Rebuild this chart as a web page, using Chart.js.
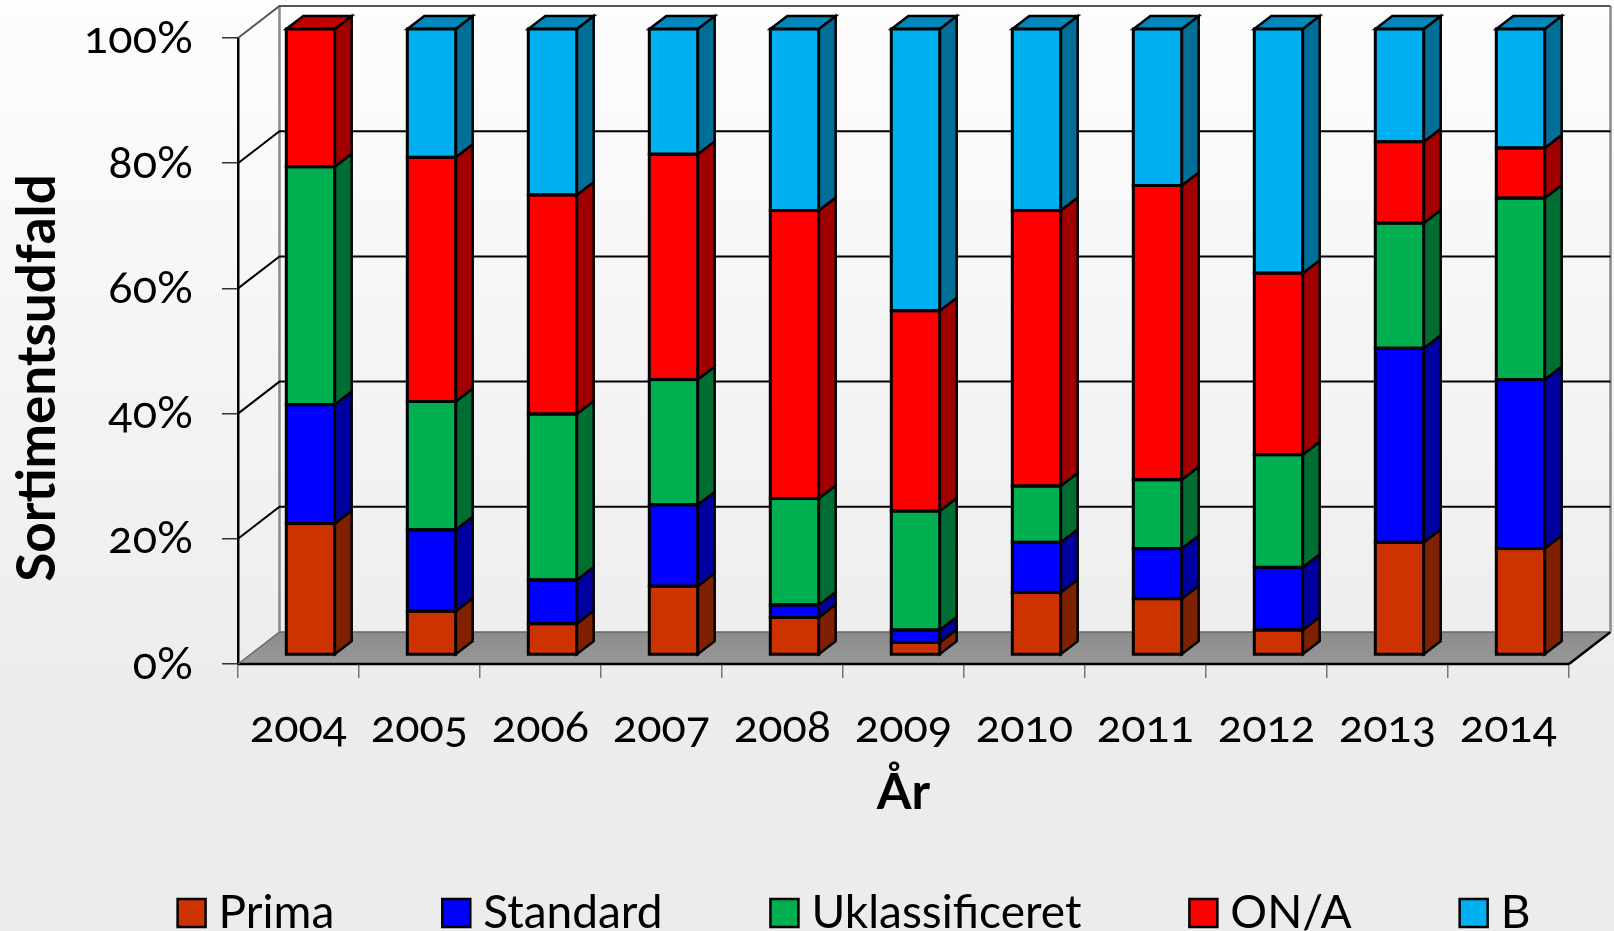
<!DOCTYPE html>
<html><head><meta charset="utf-8">
<script src="https://cdn.jsdelivr.net/npm/chart.js@4"></script>
<style>
html,body{margin:0;padding:0;width:1614px;height:931px;overflow:hidden;background:linear-gradient(180deg,#fdfdfd 0%,#f3f3f3 45%,#ececec 75%,#ececec 100%);}
canvas{display:block;font-feature-settings:"onum" 1;font-variant-numeric:oldstyle-nums;}
</style></head><body><canvas id="c" width="1614" height="931"></canvas>
<script>
const years=['2004','2005','2006','2007','2008','2009','2010','2011','2012','2013','2014'];
const prima=[21,7,5,11,6,2,10,9,4,18,17];
const standard=[19,13,7,13,2,2,8,8,10,31,27];
const uklassificeret=[38,20.5,26.5,20,17,19,9,11,18,20,29];
const onA=[22,39,35,36,46,32,44,47,29,13,8];
const b=[0,20.5,26.5,20,29,45,29,25,39,18,19];
const yTicks=[0,20,40,60,80,100];
const FONT="Lato";
const D=[41.5,-32],BD=[17,-13],OFF=[12,-9],LEG_DX=47;
const frontCols=['#CC3300','#0000FF','#00B050','#FF0000','#00B0F0'];
const sideCols=['#7F2000','#0000A0','#006E32','#A00000','#006E96'];
const topCols=['#992600','#0000C0','#008A40','#C00000','#0088BC'];
const threeD={id:'threeD',
 afterLayout(ch){
  const l=ch.legend;l.left+=LEG_DX;l.right+=LEG_DX;
  l.legendHitBoxes.forEach(h=>{h.left+=LEG_DX;});
 },
 beforeDatasetsDraw(ch){
  const x=ch.ctx,a=ch.chartArea,ys=ch.scales.y;
  x.save();
  const fl=x.createLinearGradient(0,a.bottom+D[1],0,a.bottom);
  fl.addColorStop(0,'#8c8c8c');fl.addColorStop(1,'#989898');
  x.fillStyle=fl;x.beginPath();x.moveTo(a.left,a.bottom);x.lineTo(a.right,a.bottom);
  x.lineTo(a.right+D[0],a.bottom+D[1]);x.lineTo(a.left+D[0],a.bottom+D[1]);x.closePath();x.fill();
  x.strokeStyle='#666';x.lineWidth=1.5;
  x.beginPath();x.moveTo(a.left+D[0],a.bottom+D[1]);x.lineTo(a.right+D[0],a.bottom+D[1]);x.stroke();
  x.strokeStyle='#000';x.lineWidth=2.5;
  x.beginPath();x.moveTo(a.right,a.bottom);x.lineTo(a.right+D[0],a.bottom+D[1]);x.stroke();
  x.beginPath();x.moveTo(a.left,a.bottom);x.lineTo(a.right,a.bottom);x.stroke();
  x.strokeStyle='#8a8a8a';x.lineWidth=2.5;
  x.beginPath();x.moveTo(a.left+D[0],a.top+D[1]);x.lineTo(a.left+D[0],a.bottom+D[1]);x.stroke();
  x.beginPath();x.moveTo(a.right+D[0],a.top+D[1]);x.lineTo(a.right+D[0],a.bottom+D[1]);x.stroke();
  yTicks.forEach(v=>{
   const p=ys.getPixelForValue(v);
   x.strokeStyle=v===100?'#555':(v===0?'#666':'#000');x.lineWidth=v===0?1.5:2;
   x.beginPath();x.moveTo(a.left,p);x.lineTo(a.left+D[0],p+D[1]);
   if(v!==0)x.lineTo(a.right+D[0],p+D[1]);
   x.stroke();
  });
  x.restore();
  x.save();x.translate(OFF[0],OFF[1]);
  x.lineJoin='miter';
  ch.data.datasets.forEach((ds,i)=>{
   ch.getDatasetMeta(i).data.forEach((el,j)=>{
    if(!ds.data[j])return;
    const r=el.x+el.width/2;
    x.fillStyle=sideCols[i];x.strokeStyle='#000';x.lineWidth=2.5;
    x.beginPath();x.moveTo(r,el.y);x.lineTo(r+BD[0],el.y+BD[1]);x.lineTo(r+BD[0],el.base+BD[1]);x.lineTo(r,el.base);x.closePath();x.fill();x.stroke();
    let top=true;for(let k=i+1;k<ch.data.datasets.length;k++)if(ch.data.datasets[k].data[j])top=false;
    if(top){const l=el.x-el.width/2;
     x.fillStyle=topCols[i];
     x.beginPath();x.moveTo(l,el.y);x.lineTo(l+BD[0],el.y+BD[1]);x.lineTo(r+BD[0],el.y+BD[1]);x.lineTo(r,el.y);x.closePath();x.fill();x.stroke();}
   });
  });
 },
 afterDatasetsDraw(ch){
  const x=ch.ctx;
  x.strokeStyle='#000';x.lineWidth=3;
  ch.data.datasets.forEach((ds,i)=>{
   ch.getDatasetMeta(i).data.forEach((el,j)=>{
    if(!ds.data[j])return;
    x.strokeRect(el.x-el.width/2,el.y,el.width,el.base-el.y);
   });
  });
  x.restore();
 },
 afterDraw(ch){
  const x=ch.ctx;
  x.save();
  ch.legend.legendHitBoxes.forEach((h,i)=>{
   x.fillStyle=frontCols[i];x.strokeStyle='#000';x.lineWidth=2.5;
   const cy=h.top+h.height/2;
   x.fillRect(h.left,cy-14,28,28);x.strokeRect(h.left,cy-14,28,28);
  });
  x.restore();
 }
};
const mk=(label,data,color)=>({label,data,backgroundColor:color,borderWidth:0,clip:false,
  barPercentage:0.4,categoryPercentage:1});
new Chart(document.getElementById('c'),{
 type:'bar',
 data:{labels:years,datasets:[
  mk('Prima',prima,frontCols[0]),mk('Standard',standard,frontCols[1]),
  mk('Uklassificeret',uklassificeret,frontCols[2]),mk('ON/A',onA,frontCols[3]),mk('B',b,frontCols[4])]},
 plugins:[threeD],
 options:{responsive:false,animation:false,devicePixelRatio:1,
  layout:{padding:{left:0,right:0,top:38,bottom:-15}},
  plugins:{title:{display:false},tooltip:{enabled:false},
   legend:{position:'bottom',labels:{color:'#000',font:{family:FONT,size:46},boxWidth:18,boxHeight:18,padding:108,
     generateLabels(ch){return ch.data.datasets.map((d,i)=>({text:d.label,fillStyle:'rgba(0,0,0,0)',strokeStyle:'rgba(0,0,0,0)',lineWidth:0,datasetIndex:i,fontColor:'#000'}));}}}},
  scales:{
   x:{stacked:true,
    grid:{drawOnChartArea:false,drawTicks:true,tickLength:14,color:'#777',lineWidth:1.5,offset:true},
    border:{display:false},
    ticks:{color:'#000',font:{family:FONT,size:45},padding:22,maxRotation:0,autoSkip:false},
    title:{display:true,text:'År',color:'#000',font:{family:FONT,size:50,weight:'bold'},padding:{top:0,bottom:-41}},
    afterFit(s){s.height=118;s.paddingLeft=0;s.paddingRight=0;}},
   y:{stacked:true,min:0,max:100,
    afterBuildTicks(s){s.ticks=yTicks.map(v=>({value:v}));},
    grid:{drawOnChartArea:false,drawTicks:true,tickLength:16,color:'#333',lineWidth:1.5},
    border:{display:true,color:'#000',width:2.5},
    ticks:{color:'#000',font:{family:FONT,size:45},padding:29,callback:v=>v+'%'},
    title:{display:true,text:'Sortimentsudfald',color:'#000',font:{family:FONT,size:53,weight:'bold'},padding:{top:6,bottom:0}},
    afterFit(s){s.width=238;s.paddingTop=0;s.paddingBottom=0;
     if(!s._dt){s._dt=true;const o=s.drawTitle;s.drawTitle=function(){const c=this.ctx;c.save();c.translate(0,27);o.call(this);c.restore();};}}},
   yRightMargin:{position:'right',display:true,grid:{display:false},border:{display:false},ticks:{display:false},
    afterFit(s){s.width=45;s.paddingTop=0;s.paddingBottom=0;}}
  }}
});
</script></body></html>
